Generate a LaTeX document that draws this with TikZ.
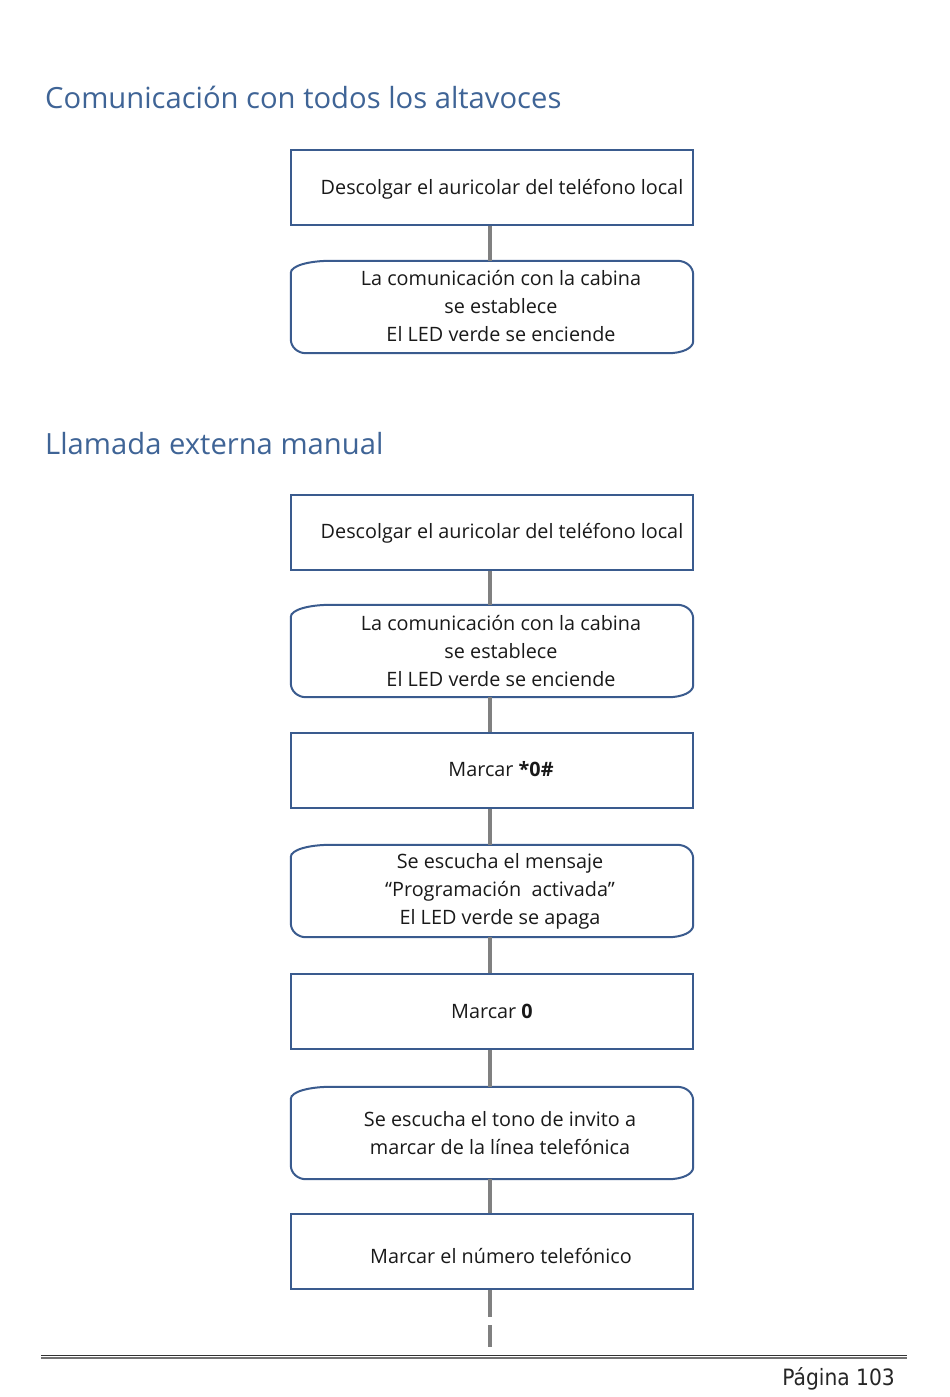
\documentclass[tikz,border=0pt]{standalone}
\usepackage{fontspec}
\setmainfont{Open Sans}
\newfontfamily\footfont{DejaVu Sans Condensed}
\usetikzlibrary{calc}
\definecolor{headblue}{HTML}{3F6496}
\definecolor{boxblue}{HTML}{3A5B8E}
\definecolor{linkgray}{HTML}{808080}
\tikzset{
  heading/.style={anchor=base west, inner sep=0pt, text=headblue, font=\fontsize{29.2}{34}\selectfont},
  rectbox/.style={draw=boxblue, line width=2pt, minimum width=402pt, minimum height=75pt, inner sep=0pt},
  roundbox/.style={minimum width=402pt, minimum height=92pt, inner sep=0pt},
  outline/.style={draw=boxblue, line width=2pt},
  label/.style={inner sep=0pt, font=\fontsize{19.8}{28}\selectfont, align=center, text=black!90},
  link/.style={draw=linkgray, line width=4.5pt},
}
\newcommand\softbox[1]{%
  \path[outline]
    ($(#1.north west)+(40,0)$) -- ($(#1.north east)+(-16,0)$)
    .. controls ($(#1.north east)+(-7,0)$) and ($(#1.north east)+(0,6)$) .. ($(#1.north east)+(0,14)$)
    -- ($(#1.south east)+(0,-12)$)
    .. controls ($(#1.south east)+(0,-5)$) and ($(#1.south east)+(-11,0)$) .. ($(#1.south east)+(-25,0)$)
    -- ($(#1.south west)+(15,0)$)
    .. controls ($(#1.south west)+(7,0)$) and ($(#1.south west)+(0,-6)$) .. ($(#1.south west)+(0,-14)$)
    -- ($(#1.north west)+(0,12)$)
    .. controls ($(#1.north west)+(0,5)$) and ($(#1.north west)+(18,0)$) .. ($(#1.north west)+(40,0)$)
    -- cycle;}
\begin{document}
\begin{tikzpicture}[x=1pt,y=-1pt]
\useasboundingbox (0,0) rectangle (950,1397);
% Section 1
\node[heading] (h1) at (45,108) {Comunicación con todos los altavoces};
\node[rectbox] (a1) at (492,187.5) {};
\node[label] (ta1) at (502,189) {Descolgar el auricolar del teléfono local};
\node[roundbox] (b1) at (492,307) {};
\softbox{b1}
\node[label] (tb1) at (501,306) {La comunicación con la cabina\\se establece\\El LED verde se enciende};
\draw[link] (a1.south -| 490,0) -- (b1.north -| 490,0);
% Section 2
\node[heading] (h2) at (45,454) {Llamada externa manual};
\node[rectbox] (a2) at (492,532) {};
\node[label] (ta2) at (502,533) {Descolgar el auricolar del teléfono local};
\node[roundbox] (b2) at (492,651) {};
\softbox{b2}
\node[label] (tb2) at (501,651) {La comunicación con la cabina\\se establece\\El LED verde se enciende};
\node[rectbox] (c2) at (492,770.5) {};
\node[label] (tc2) at (501,769) {Marcar \textbf{*0\#}};
\node[roundbox] (d2) at (492,891) {};
\softbox{d2}
\node[label] (td2) at (500,891) {Se escucha el mensaje\\“Programación\ \ activada”\\El LED verde se apaga};
\node[rectbox] (e2) at (492,1011.5) {};
\node[label] (te2) at (492,1011) {Marcar \textbf{0}};
\node[roundbox] (f2) at (492,1133) {};
\softbox{f2}
\node[label] (tf2) at (500,1133) {Se escucha el tono de invito a\\marcar de la línea telefónica};
\node[rectbox] (g2) at (492,1251.5) {};
\node[label] (tg2) at (501,1256) {Marcar el número telefónico};
\coordinate (end) at (490,1347);
\draw[link] (a2.south -| 490,0) -- (b2.north -| 490,0);
\draw[link] (b2.south -| 490,0) -- (c2.north -| 490,0);
\draw[link] (c2.south -| 490,0) -- (d2.north -| 490,0);
\draw[link] (d2.south -| 490,0) -- (e2.north -| 490,0);
\draw[link] (e2.south -| 490,0) -- (f2.north -| 490,0);
\draw[link] (f2.south -| 490,0) -- (g2.north -| 490,0);
\draw[link, dash pattern=on 27pt off 8pt] (g2.south -| 490,0) -- (end);
% footer
\coordinate (fl) at (41,1355);
\coordinate (fr) at (907,1355);
\draw[line width=1pt, black!80] (fl) -- (fr);
\draw[line width=2pt, black!55] ([yshift=-3pt]fl) -- ([yshift=-3pt]fr);
\node[anchor=base east, inner sep=0pt, font=\footfont\fontsize{22.5}{26}\selectfont, text=black!85] (pg) at (895,1385) {Página 103};
\end{tikzpicture}
\end{document}
